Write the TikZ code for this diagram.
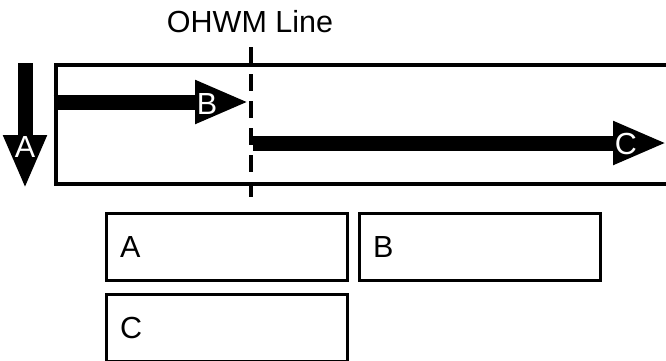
\documentclass[tikz,border=0pt]{standalone}
\usepackage{fontspec}
\setmainfont{Liberation Sans}
\usepackage{tikz}
\usetikzlibrary{positioning,arrows.meta}

\begin{document}
\begin{tikzpicture}[x=1pt, y=-1pt, node distance=253pt,
        font=\fontsize{30.5}{36}\selectfont,
        box/.style={draw, line width=3pt, minimum width=241pt, minimum height=67pt,
            text width=213pt, inner xsep=14pt, align=left},
        flow/.style={line width=15pt, -{Triangle[length=54pt, width=40pt]}},
        tag/.style={text=white, inner sep=0pt}]
        \useasboundingbox (0,0) rectangle (666,360);

        % channel with the OHWM line
        \node (bank) [draw, line width=4.5pt, minimum width=612pt, minimum height=119pt,
            inner sep=0pt] at (361.8,124.5) {};
        \coordinate (ohwmTop) at (250.5,47);
        \coordinate (ohwmBot) at (250.5,197);
        \node (title) [anchor=base] at (250,32) {OHWM Line};
        \draw[line width=4pt, dash pattern=on 17pt off 10pt] (ohwmTop) -- (ohwmBot);

        % flow arrows
        \coordinate (aStart) at (25,63);
        \coordinate (aEnd) at (25,189);
        \coordinate (bStart) at (bank.west);
        \coordinate (bEnd) at (249,102);
        \coordinate (cStart) at (253,143);
        \coordinate (cEnd) at (667,143);

        \draw[flow] (aStart) -- (aEnd);
        \draw[flow] (bStart |- bEnd) -- (bEnd);
        \draw[flow] (cStart) -- (cEnd);

        \node (tagA) [tag] at (25,147) {A};
        \node (tagB) [tag] at (207,104) {B};
        \node (tagC) [tag] at (626,144) {C};

        % legend boxes
        \node (boxA) [box] at (226.5,246.5) {A};
        \node (boxB) [box, right of=boxA] {B};
        \node (boxC) [box, below of=boxA, node distance=81pt] {C};
    \end{tikzpicture}
\end{document}
